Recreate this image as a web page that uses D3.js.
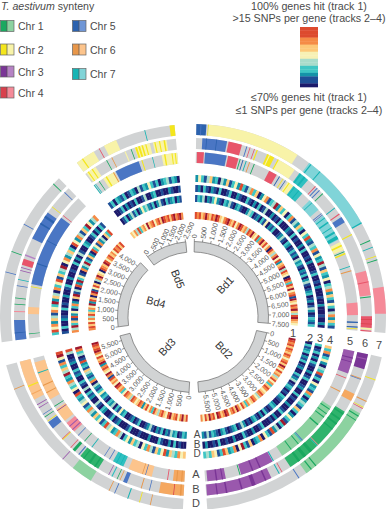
<!DOCTYPE html>
<html><head><meta charset="utf-8">
<style>html,body{margin:0;padding:0;background:#fff}svg{display:block}text{font-family:"Liberation Sans",Arial,sans-serif;fill:#4a4a4a}</style>
<script src="https://cdn.jsdelivr.net/npm/d3@7"></script></head><body>
<script>
// ---- categories and scale
const chromosomes = ["Bd1","Bd2","Bd3","Bd4","Bd5"];
const chromLengths = [7500,5900,5800,4280,2520];
const tickStep = 500;
const trackNumbers = ["1","2","3","4","5","6","7"];
const genomeLabels = ["A","B","D"];
const chrNames = ["Chr 1","Chr 2","Chr 3","Chr 4","Chr 5","Chr 6","Chr 7"];
const chrDark = ["#1aa860","#f4e61c","#7a3596","#d8404c","#2c62ae","#e8974a","#16b4b4"];
const chrMid  = ["#2fb36c","#f2e94a","#9a58ad","#e8556a","#4a76c4","#f5a860","#2fc0c0"];
const chrPale = ["#8cd2a0","#f8f3a8","#b582c4","#f58a98","#6f96d6","#fcc48c","#80d4d8"];
const heat = ["#1c1a6b","#1f4f96","#1593a8","#3fc6c4","#a9dccb","#f7f1b5","#fdc878","#f58b46","#dd4a2e","#a0182d"];
const legendHeat = [8,8,8,7,7,6,6,5,5,4,4,3,3,2,1,1,0];

// ---- track 1 (genes hit), heat class per window
const t1Bd1 = [8,7,8,6,7,9,7,6,8,7,9,8,6,5,7,8,9,7,6,8,5,7,9,8,6,7,4,8,7,9,6,5,8,3,7,9,6,8,5,7,0,8,6,4,7,9,5,8,2,6,7,9,4,8,6,5,0,9,7,3,8,6,9,5,7,8,1,9,6,5,8,7,9,6,4,8,9,7,6,5];
const t1Bd2 = [9,8,7,8,6,8,7,6,8,7,5,7,8,6,9,7,5,8,6,7,4,6,8,5,7,3,6,8,7,5,6,8,7,4,5,7,8,6,5,7,3,6,8,5,7,9,6,8,7,5,8,9,7,6,8,9,5,8,7,9,6,8,5,7];
const t1Bd3 = [8,6,9,7,5,8,7,6,9,8,5,6,8,7,4,6,8,3,7,5,8,6,2,7,8,6,5,7,8,4,6,7,8,5,3,7,6,8,9,5,7,6,8,1,7,9,5,6,8,7,2,9,7,6,8,5,7,9,8,7,8,9];
const t1Bd4 = [7,8,6,8,5,7,4,8,6,3,7,5,9,2,8,6,0,7,9,1,5,8,6,0,4,7,9,6,5,0,8,7,6,9,8,5,7,8,6,7,5,8,7,8,6,8];
const t1Bd5 = [6,5,7,4,8,3,6,7,5,9,6,7,8,5,7,8,6,9,8,7,8,6,8,9,7,8,9,7];

// ---- track 2 (A genome SNPs per gene), heat class per window
const t2Bd1 = [1,3,2,4,0,2,1,3,5,2,1,0,3,2,4,1,0,2,3,1,0,0,2,4,3,0,1,2,0,3,1,5,0,2,1,3,0,0,1,2,4,1,0,3,2,0,1,3,1,2,0,4,2,3,1,0,2,1,3,0,2,4,1,0,1,2,3,0,1,2,0,1,4,2,0,1,3,2,1,3];
const t2Bd2 = [0,3,1,2,3,0,2,1,3,0,1,2,0,0,3,1,2,4,0,1,3,2,0,1,0,3,2,1,0,0,2,3,1,0,1,3,0,2,0,1,3,2,0,1,0,2,4,1,0,3,2,1,0,1,3,2,0,1,2,3,1,4,1,2];
const t2Bd3 = [2,3,1,0,3,2,4,1,2,0,3,1,2,0,1,4,2,1,0,0,3,1,0,2,1,0,0,3,2,5,1,3,0,4,2,3,0,1,3,2,5,3,1,2,4,0,7,3,1,2,4,6,1,3,2,8,1,0,4,3,7,9];
const t2Bd4 = [7,4,9,3,6,1,8,2,5,0,3,7,2,0,6,9,1,4,0,8,2,9,3,5,1,0,7,2,4,9,3,1,6,2,0,8,3,5,1,7,2,4,0,6,3,8];
const t2Bd5 = [0,1,3,0,2,4,1,3,0,2,5,3,4,2,1,3,0,2,4,1,0,3,1,2,3,0,2,1];

// ---- track 3 (B genome SNPs per gene), heat class per window
const t3Bd1 = [1,2,0,3,1,0,2,1,0,3,0,0,1,3,0,0,2,1,0,0,3,1,0,2,0,3,0,1,4,0,0,2,0,1,0,3,0,0,0,2,1,0,3,0,1,0,0,2,0,3,0,0,1,0,2,0,0,0,1,3,0,0,1,0,2,0,0,0,1,0,0,2,0,0,0,1,0,0,2,0];
const t3Bd2 = [3,0,1,3,0,2,0,3,1,0,0,2,0,1,3,0,0,1,2,0,0,3,0,1,0,0,2,0,0,1,3,0,0,2,0,1,0,0,0,3,1,0,0,2,0,0,1,3,0,0,0,2,0,0,1,0,0,3,0,1,0,0,2,0];
const t3Bd3 = [0,0,1,0,3,0,2,0,0,1,3,0,0,0,2,0,0,0,1,0,0,0,3,1,0,0,0,2,1,0,3,1,0,0,2,3,0,1,4,0,0,2,1,3,0,4,0,1,3,0,0,2,1,3,0,0,2,1,0,0,4,8];
const t3Bd4 = [1,0,3,0,0,2,1,0,0,3,0,1,0,0,2,0,0,1,3,0,0,2,0,0,1,0,0,3,0,2,0,4,1,0,0,3,2,0,0,1,3,0,2,0,3,1];
const t3Bd5 = [0,0,1,3,0,2,0,1,0,3,0,0,1,4,0,0,2,3,0,0,1,0,0,2,1,0,0,1];

// ---- track 4 (D genome SNPs per gene), heat class per window
const t4Bd1 = [2,5,3,1,4,6,2,3,0,4,2,6,1,3,5,2,8,3,1,4,7,3,6,0,2,5,7,1,3,4,9,2,6,3,5,0,3,7,1,4,2,6,3,0,5,3,8,2,1,4,3,7,1,5,2,3,9,4,1,6,3,2,5,0,3,4,7,2,6,3,1,5,3,0,4,7,2,6,3,1];
const t4Bd2 = [6,3,7,1,3,5,2,0,4,3,8,1,3,0,5,2,3,1,7,3,0,2,4,3,1,6,3,0,2,5,3,1,9,3,0,4,2,8,1,3,5,0,7,3,2,0,6,1,3,9,5,0,7,3,2,6,8,3,1,5,6,3,4,3];
const t4Bd3 = [6,5,7,3,4,6,2,8,5,3,6,1,4,7,3,5,0,4,3,6,2,5,3,0,4,7,3,2,5,4,8,3,1,5,3,6,2,4,7,3,1,5,4,2,3,8,0,5,3,4,7,2,3,9,4,6,3,7,1,5,9,8];
const t4Bd4 = [3,8,5,7,2,6,4,1,7,5,3,9,2,6,4,0,7,3,5,8,1,6,3,4,9,0,5,7,2,4,6,3,0,8,5,2,7,4,1,6,3,9,5,2,4,7];
const t4Bd5 = [1,3,0,3,2,1,3,0,1,3,2,0,4,1,3,2,5,3,1,3,0,2,3,4,1,3,2,0];

// ---- tracks 5-7, synteny blocks: [start kb, end kb, chromosome, shade] (shade 0 pale, 1 mid, 2 dark)
const syn5Bd1 = [[30,225,4,1],[255,865,5,1],[905,1200,4,1],[1240,1265,1,2],[1320,1345,5,2],[1415,1440,7,2],[1515,1540,6,2],[1655,1680,1,2],[2120,2360,4,1],[2440,2465,5,2],[2560,2580,2,2],[2640,2660,5,2],[2720,2920,2,0],[2760,2790,2,2],[2920,3240,7,1],[2950,2975,7,2],[3100,3130,7,2],[3520,3880,7,0],[3600,3620,7,2],[4000,4025,5,1],[4050,4070,5,1],[4080,4880,7,0],[4150,4180,7,2],[4300,4340,7,2],[4480,4510,7,2],[4620,4680,7,2],[4760,4860,7,2],[4960,5200,2,0],[5040,5090,2,2],[5240,5265,1,2],[5290,5330,2,2],[5680,5705,7,2],[5800,5830,6,2],[6720,7065,4,0],[7250,7290,5,2],[7385,7420,5,2],[7440,7460,2,2]];
const syn6Bd1 = [[160,800,5,1],[260,280,5,2],[520,540,5,2],[840,1190,4,1],[1310,1335,5,1],[1400,1420,4,1],[1520,1540,4,1],[1590,1620,2,2],[1880,2080,2,2],[1930,1960,2,0],[2180,2690,2,0],[2180,2210,2,2],[2840,3120,7,1],[2860,2900,7,2],[2980,3030,7,2],[3360,3385,4,1],[3425,3450,5,1],[3505,3530,5,1],[3625,3650,1,2],[4105,4130,7,2],[4295,4325,4,1],[4400,4560,5,1],[4910,4940,2,2],[5920,6560,4,0],[6200,6225,4,1],[6590,6615,1,2],[7100,7400,4,1],[7180,7200,4,2],[7290,7310,4,2],[7410,7450,2,0],[7470,7500,4,1]];
const syn7Bd1 = [[0,240,5,2],[100,120,5,1],[280,300,2,2],[300,2545,2,0],[2880,4800,7,0],[2920,2950,7,2],[3200,3225,7,2],[4770,4800,7,2],[5240,5265,1,2],[5410,5430,7,2],[5640,5660,2,2],[5730,5750,1,2],[6400,7040,4,0]];
const syn5Bd2 = [[0,640,3,1],[180,210,3,2],[300,320,3,2],[770,790,4,1],[1175,1200,6,2],[1680,3620,1,0],[1750,1780,1,2],[1900,1930,1,2],[2020,2050,1,2],[2280,2320,1,2],[2900,2925,5,1],[2940,2960,7,1],[3050,3080,1,2],[3300,3330,1,2],[3890,3920,7,2],[3930,4880,3,1],[4300,4340,3,2],[4520,4560,3,2],[4900,4925,1,2],[5320,5840,3,1],[5400,5430,3,2],[5560,5600,3,2]];
const syn6Bd2 = [[0,400,3,2],[120,150,3,1],[640,665,6,2],[665,685,5,1],[1080,1280,6,1],[1600,3600,1,1],[1650,1690,1,2],[1800,1850,1,2],[1950,2000,1,2],[2130,2160,1,2],[2680,2700,4,0],[2715,2735,7,1],[2900,2980,1,2],[3100,3180,1,2],[3300,3360,1,2],[3840,3860,4,1],[3920,3945,7,2],[4160,5880,3,1],[4300,4340,3,2],[4600,4700,3,2],[4950,4990,3,2],[5350,5390,3,2],[5600,5630,3,2]];
const syn7Bd2 = [[550,575,2,2],[1105,1130,6,2],[1265,1285,2,2],[1300,1320,4,1],[1440,3360,1,0],[1500,1530,1,2],[1620,1640,1,2],[3060,3090,1,2],[3200,3230,1,2],[3560,3585,5,1]];
const syn5Bd3 = [[0,320,6,1],[60,90,6,2],[200,230,6,2],[460,485,4,1],[920,1600,6,0],[1090,1110,5,1],[1180,1200,6,2],[1760,2080,7,1],[1840,1860,7,2],[1960,1985,7,2],[2185,2205,5,1],[2350,2370,5,1],[2775,2800,7,2],[3040,3060,1,2],[3280,3300,5,1],[3440,3760,4,0],[3500,3530,3,1],[3620,3650,3,1],[3840,4240,6,0],[4180,4200,3,2],[4320,4345,1,2],[4560,5680,6,0],[4760,4790,6,2],[4980,5010,6,2],[5360,5385,7,2]];
const syn6Bd3 = [[0,640,6,1],[60,100,6,2],[250,270,4,2],[880,900,5,1],[1095,1120,6,2],[1495,1600,5,1],[1680,1700,6,2],[1760,1780,1,2],[1900,1930,7,1],[2000,2020,3,1],[2320,2880,1,1],[2400,2440,1,2],[2560,2620,1,2],[2760,2790,1,2],[2920,2950,5,1],[3060,3140,1,2],[3200,3220,4,1],[3490,3510,2,2],[3515,3530,4,1],[3880,4080,5,1],[4100,4120,2,2],[4230,4250,1,2],[4310,4330,5,1],[4510,4530,3,1],[4600,4620,3,1],[4760,5800,6,0],[4900,4930,6,1],[5120,5150,2,2]];
const syn7Bd3 = [[775,795,6,2],[1040,1060,2,2],[1330,1355,7,2],[1670,1690,5,1],[1815,1835,6,2],[2320,2840,1,0],[3150,3170,3,1],[5190,5210,6,2]];
const syn5Bd4 = [[120,140,1,2],[680,880,6,0],[1440,1460,2,2],[1520,3560,5,1],[2100,2130,5,2],[2800,2820,5,2],[3630,3650,4,1]];
const syn6Bd4 = [[0,520,5,1],[180,200,5,2],[730,755,4,0],[920,940,1,2],[1080,1100,1,2],[1400,1420,5,1],[1560,1580,7,2],[1800,1820,3,1],[1880,1900,3,1],[1960,2120,4,1],[2200,2240,3,0],[2680,3460,5,1],[3100,3140,5,2],[3300,3360,5,2],[3630,3650,2,2],[4120,4140,5,1]];
const syn7Bd4 = [[1670,1690,5,1],[2180,2200,1,2],[2890,2910,5,1],[4080,4100,1,2]];
const syn5Bd5 = [[0,25,7,2],[50,70,7,1],[175,195,1,2],[320,680,2,0],[400,440,2,2],[640,670,6,2],[720,1420,5,1],[1500,1530,2,2],[1810,1830,7,2],[2080,2520,2,0],[2150,2190,2,2],[2360,2390,2,2],[2450,2480,2,2]];
const syn6Bd5 = [[40,320,2,0],[80,110,2,2],[200,230,2,2],[640,660,1,2],[790,810,6,2],[1160,1190,2,0],[1330,1350,1,2],[1440,1840,2,0],[1450,1500,2,2],[1530,1580,2,2],[1620,1660,2,2],[1720,1750,2,2],[1920,2280,2,0],[1960,1990,2,2],[2080,2110,2,2],[2200,2240,2,2]];
const syn7Bd5 = [[0,480,2,0],[150,180,2,2],[620,640,4,1],[760,1080,2,0],[1790,1810,7,2],[2400,2520,2,2]];

const heatTracks = [
  [t1Bd1,t1Bd2,t1Bd3,t1Bd4,t1Bd5],
  [t2Bd1,t2Bd2,t2Bd3,t2Bd4,t2Bd5],
  [t3Bd1,t3Bd2,t3Bd3,t3Bd4,t3Bd5],
  [t4Bd1,t4Bd2,t4Bd3,t4Bd4,t4Bd5]];
const synTracks = [
  [syn5Bd1,syn5Bd2,syn5Bd3,syn5Bd4,syn5Bd5],
  [syn6Bd1,syn6Bd2,syn6Bd3,syn6Bd4,syn6Bd5],
  [syn7Bd1,syn7Bd2,syn7Bd3,syn7Bd4,syn7Bd5]];

// ---- layout
const W=386,H=509,cx=193,cy=317;
const gapStart=[1,102,183,262.5,323];
const kbPerDeg=80;
const rad=d=>d*Math.PI/180;
const angleScales=chromosomes.map((c,i)=>d3.scaleLinear().domain([0,chromLengths[i]]).range([rad(gapStart[i]),rad(gapStart[i]+chromLengths[i]/kbPerDeg)]));
const heatR=[[98,105],[115,122],[125,132],[135,142]];
const synR=[[154,165],[168,179],[182,193]];
const ringR=[65,75.5];
const grey="#d1d3d4";
const svg=d3.select("body").append("svg").attr("width",W).attr("height",H);
const g=svg.append("g").attr("transform",`translate(${cx},${cy})`);
const arc=d3.arc();

// heat tracks
heatTracks.forEach((tr,ti)=>{
  const [r0,r1]=heatR[ti];
  const tg=g.append("g");
  tr.forEach((vals,ci)=>{
    const a=angleScales[ci];
    const bin=d3.scaleLinear().domain([0,vals.length]).range(a.domain());
    tg.selectAll(null).data(vals).join("path")
      .attr("d",(v,i)=>arc({innerRadius:r0,outerRadius:r1,startAngle:a(bin(i)),endAngle:a(bin(i+1))+(i<vals.length-1?0.002:0)}))
      .attr("fill",v=>heat[v]);
  });
});

// synteny tracks
const shade=[chrPale,chrMid,chrDark];
synTracks.forEach((tr,ti)=>{
  const [r0,r1]=synR[ti];
  tr.forEach((segs,ci)=>{
    const a=angleScales[ci],[d0,d1]=a.domain();
    g.append("path").attr("d",arc({innerRadius:r0,outerRadius:r1,startAngle:a(d0),endAngle:a(d1)})).attr("fill",grey);
    g.append("g").selectAll("path").data(segs).join("path")
      .attr("d",s=>arc({innerRadius:r0,outerRadius:r1,startAngle:a(s[0]),endAngle:a(s[1])}))
      .attr("fill",s=>shade[s[3]][s[2]-1]);
  });
});

// chromosome ring, ticks and labels
const fmt=d3.format(",");
chromosomes.forEach((c,ci)=>{
  const a=angleScales[ci],[d0,d1]=a.domain();
  g.append("path").attr("d",arc({innerRadius:ringR[0],outerRadius:ringR[1],startAngle:a(d0),endAngle:a(d1)}))
    .attr("fill",grey).attr("stroke","#6a6a6a").attr("stroke-width",0.7);
  const ticks=d3.range(0,d1+1,tickStep);
  const tk=g.append("g").selectAll("g").data(ticks).join("g")
    .attr("transform",v=>{const t=a(v)*180/Math.PI;return `rotate(${t-90})`;});
  tk.append("line").attr("x1",ringR[1]).attr("x2",ringR[1]+2.6).attr("stroke","#555").attr("stroke-width",0.6);
  ticks.forEach(v=>{
    const t=a(v)*180/Math.PI, th=a(v), rr=ringR[1]+3.4;
    const x=rr*Math.sin(th), y=-rr*Math.cos(th);
    let rot,anchor;
    if(ci===4){rot=-66;anchor="start";}
    else if(ci===3){rot=(t-270)*0.7;anchor="end";}
    else if(t<180){rot=t-90;anchor="start";}
    else {rot=t+90;anchor="end";}
    g.append("text").attr("transform",`translate(${x},${y}) rotate(${rot})`)
      .attr("text-anchor",anchor).attr("dy","0.35em").attr("font-size",7).style("fill","#5a5a5a").text(fmt(v));
  });
});

// chromosome names
const nameAt=[[225,285,-47],[224,350,47],[167,347,-47],[156,302,15],[178,279,68]];
chromosomes.forEach((c,i)=>{
  svg.append("text").attr("transform",`translate(${nameAt[i][0]},${nameAt[i][1]}) rotate(${nameAt[i][2]})`)
    .attr("text-anchor","middle").attr("dy","0.35em").attr("font-size",11).style("fill","#333").text(c);
});

// track numbers and genome letters
const numAt=[[293,337],[310,342],[320,342],[330,344],[350,345],[365,347],[379,349]];
trackNumbers.forEach((t,i)=>svg.append("text").attr("x",numAt[i][0]).attr("y",numAt[i][1]).attr("text-anchor","middle").attr("font-size",11).text(t));
const letterAt=[[197,438],[197,447.5],[197,457],[196,478],[196,493],[196,507]];
[...genomeLabels,...genomeLabels].forEach((t,i)=>svg.append("text").attr("x",letterAt[i][0]).attr("y",letterAt[i][1]).attr("text-anchor","middle").attr("font-size",i<3?10:11).text(t));

// left legend
const title=svg.append("text").attr("x",1).attr("y",10).attr("font-size",10.6);
title.append("tspan").attr("font-style","italic").text("T. aestivum");
title.append("tspan").text(" synteny");
const swatchAt=[[0,20.5],[0,44],[0,66],[0,87],[72,20.5],[72,44],[72,68.5]];
chrNames.forEach((n,i)=>{
  const [x,y]=swatchAt[i];
  svg.append("rect").attr("x",x+0.5).attr("y",y).attr("width",6.5).attr("height",11).attr("fill",chrDark[i]);
  svg.append("rect").attr("x",x+7).attr("y",y).attr("width",7).attr("height",11).attr("fill",chrPale[i]);
  svg.append("rect").attr("x",x+0.5).attr("y",y).attr("width",13.5).attr("height",11).attr("fill","none").attr("stroke","#666").attr("stroke-width",0.7);
  svg.append("line").attr("x1",x+7).attr("x2",x+7).attr("y1",y).attr("y2",y+11).attr("stroke","#555").attr("stroke-width",0.7);
  svg.append("text").attr("x",x+18).attr("y",y+9.5).attr("font-size",10.5).text(n);
});

// heat legend
const hy=d3.scaleBand().domain(d3.range(legendHeat.length)).range([27,87]);
svg.append("g").selectAll("rect").data(legendHeat).join("rect")
  .attr("x",300).attr("width",18).attr("y",(v,i)=>hy(i)).attr("height",hy.bandwidth()+0.3).attr("fill",v=>heat[v]);
const legendText=[["100% genes hit (track 1)",10],[">15 SNPs per gene (tracks 2–4)",22],["≤70% genes hit (track 1)",101],["≤1 SNPs per gene (tracks 2–4)",114]];
legendText.forEach(([t,y])=>svg.append("text").attr("x",309).attr("y",y).attr("text-anchor","middle").attr("font-size",10.7).text(t));
</script></body></html>
